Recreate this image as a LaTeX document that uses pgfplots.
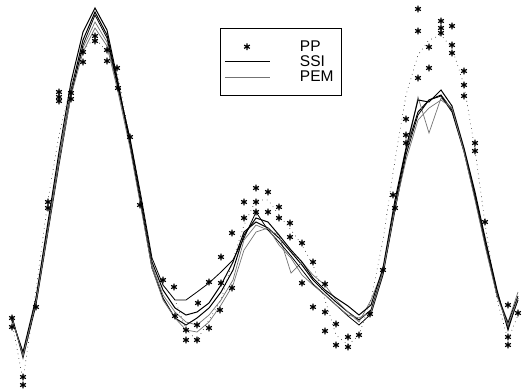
\documentclass[border=0pt]{standalone}
\usepackage{pgfplots}
\pgfplotsset{compat=1.18}
\usepackage{fontspec}
\setmainfont{Liberation Sans}
\begin{document}
\begin{tikzpicture}
\begin{axis}[
  scale only axis, width=522pt, height=389pt,
  xmin=0, xmax=522, ymin=0, ymax=389, y dir=reverse,
  hide axis, clip=true,
  legend style={at={(axis cs:220,28)}, anchor=north west, draw=black, line width=0.9pt, fill=white,
    font=\fontsize{15.5}{15.5}\selectfont, inner xsep=4pt, inner ysep=11pt, row sep=0.5pt,
    nodes={inner ysep=1.2pt, inner xsep=4pt}},
  legend cell align=left,
  legend image code/.code={\path[mark repeat=2,mark phase=2,#1] plot coordinates {(0pt,0pt) (22pt,0pt) (45pt,0pt)};\path[draw=none] (0pt,0pt) -- (71pt,0pt);},
]
\path (rel axis cs:0,0) rectangle (rel axis cs:1,1);
% PP stars
\addplot[only marks, mark=asterisk, mark size=3.3pt, line width=1.2pt, black] coordinates {
(12,318)(12,327)(23,377)(23,385)(36,307)(48,202)(48,208)(59,92)(59,97)(59,101)(71,93)(71,99)
(83,52)(83,62)(95,36)(95,41)(107,50)(107,61)(117,68)(118,88)(130,137)(140,205)
(163,280)(174,287)(175,316)(186,330)(186,340)(197,325)(197,340)(198,303)(209,328)(209,282)
(221,283)(221,257)(220,310)(232,288)(232,233)(244,218)(244,202)(256,188)(256,202)(256,212)
(268,192)(268,212)(279,207)(279,218)(290,223)(290,237)(302,243)(302,283)(313,262)(313,307)
(325,312)(325,331)(325,284)(336,324)(336,345)(348,337)(348,347)(359,335)(370,314)(383,270)
(393,195)(395,208)(406,119)(406,135)(406,143)(418,9)(418,31)(418,78)(429,47)(429,68)
(441,21)(441,28)(441,33)(452,26)(452,45)(452,53)(464,71)(464,85)(464,96)(475,143)(475,151)
(485,222)(508,305)(508,337)(508,345)(518,313)};
\addlegendentry{PP}
% SSI
\addplot[draw=black, line width=1pt] coordinates {
(12,318)(23,355)(36,302)(48,228)(59,160)(71,90)(83,40)(95,12)(107,35)(118,85)(130,140)(141,200)(152,262)(163,290)(175,308)(186,315)(197,312)(209,303)(221,285)(233,262)(244,232)(256,222)(268,228)(279,238)(291,252)(302,265)(313,280)(325,292)(336,302)(348,312)(359,320)(371,310)(383,272)(395,205)(406,150)(418,112)(429,100)(441,95)(452,110)(464,150)(475,195)(486,245)(497,292)(508,327)(518,300)};
\addlegendentry{SSI}
% PEM
\addplot[draw=black!55, line width=0.7pt] coordinates {
(12,319)(23,354)(36,300)(48,226)(59,158)(71,92)(83,48)(95,22)(107,42)(118,90)(130,145)(141,205)(152,265)(163,295)(175,312)(186,322)(197,325)(209,315)(221,300)(233,280)(244,240)(256,225)(268,230)(279,235)(291,273)(302,262)(313,275)(325,285)(336,300)(348,312)(359,322)(371,300)(383,270)(395,210)(406,155)(418,97)(429,133)(441,98)(452,108)(464,150)(475,198)(486,248)(497,293)(508,322)(518,292)};
\addlegendentry{PEM}
\addplot[draw=black, line width=1pt, forget plot] coordinates {
(12,320)(23,352)(36,298)(48,222)(59,152)(71,82)(83,32)(95,8)(107,30)(118,82)(130,145)(141,205)(152,268)(163,298)(175,318)(186,325)(197,318)(209,308)(221,292)(233,270)(244,235)(256,218)(268,222)(279,235)(291,250)(302,262)(313,278)(325,290)(336,298)(348,306)(359,315)(371,305)(383,268)(395,200)(406,148)(418,100)(429,102)(441,90)(452,106)(464,148)(475,192)(486,242)(497,290)(508,330)(518,298)};
\addplot[draw=black, line width=0.8pt, forget plot] coordinates {
(12,316)(23,358)(36,305)(48,232)(59,165)(71,95)(83,45)(95,15)(107,38)(118,88)(130,138)(141,196)(152,258)(163,285)(175,300)(186,300)(197,292)(209,283)(221,272)(233,260)(244,238)(256,212)(268,230)(279,242)(291,256)(302,270)(313,284)(325,295)(336,305)(348,316)(359,325)(371,314)(383,275)(395,210)(406,155)(418,115)(429,100)(441,96)(452,112)(464,152)(475,198)(486,248)(497,295)(508,323)(518,296)};
\addplot[draw=black!55, line width=0.7pt, forget plot] coordinates {
(12,318)(23,356)(36,302)(48,230)(59,162)(71,96)(83,52)(95,28)(107,46)(118,92)(130,148)(141,208)(152,268)(163,300)(175,318)(186,330)(197,332)(209,322)(221,305)(233,285)(244,250)(256,232)(268,228)(279,245)(291,258)(302,275)(313,285)(325,295)(336,305)(348,315)(359,318)(371,312)(383,272)(395,208)(406,160)(418,120)(429,108)(441,100)(452,108)(464,152)(475,200)(486,250)(497,296)(508,326)(518,298)};
% dotted
\addplot[draw=black, loosely dotted, line width=0.6pt, forget plot] coordinates {
(12,322)(23,380)(36,290)(48,200)(59,135)(71,85)(83,50)(95,38)(107,52)(118,75)(130,140)(141,205)(152,265)(163,285)(175,300)(186,330)(197,340)(209,320)(221,300)(233,260)(244,225)(256,200)(268,200)(279,215)(291,230)(302,245)(313,265)(325,300)(336,335)(348,345)(359,335)(371,300)(383,240)(395,160)(406,95)(418,55)(429,40)(441,35)(452,48)(464,85)(475,150)(486,230)(497,300)(508,340)(518,315)};
\end{axis}
\end{tikzpicture}
\end{document}
